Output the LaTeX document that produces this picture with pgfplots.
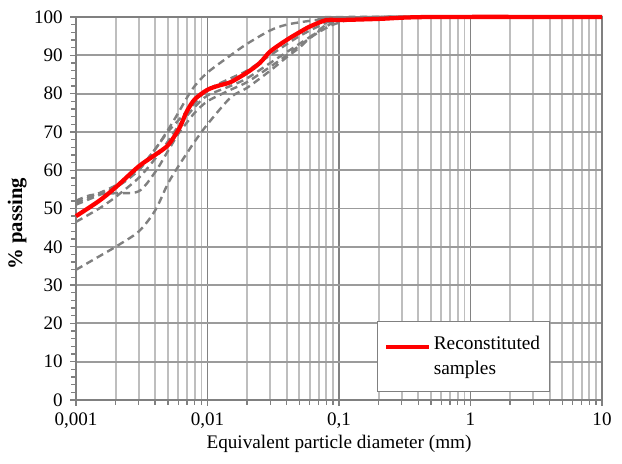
\documentclass[border=0pt]{standalone}
\usepackage{fontspec}
\setmainfont{Liberation Serif}
\usepackage{pgfplots}
\pgfplotsset{compat=1.18}
\definecolor{dgray}{RGB}{128,128,128}
\definecolor{gridmaj}{RGB}{155,155,155}
\definecolor{gridxmaj}{RGB}{130,130,130}
\definecolor{gridmin}{RGB}{190,190,190}
\definecolor{curvegray}{RGB}{128,128,128}
\pgfplotsset{redlegend/.style={legend image code/.code={\draw[##1] (0pt,7pt) -- (32pt,7pt);}}}
\begin{document}
\begin{tikzpicture}
\begin{semilogxaxis}[
  name=ax,
  scale only axis, width=394.5pt, height=287.25pt,
  xmin=0.001, xmax=10, ymin=0, ymax=100,
  xtick={0.001,0.01,0.1,1,10},
  xticklabels={{0,001},{0,01},{0,1},1,10},
  minor xtick={0.002,0.003,0.004,0.005,0.006,0.007,0.008,0.009,
               0.02,0.03,0.04,0.05,0.06,0.07,0.08,0.09,
               0.2,0.3,0.4,0.5,0.6,0.7,0.8,0.9,
               2,3,4,5,6,7,8,9},
  ytick={0,10,...,100},
  minor ytick={2,4,...,98},
  xmajorgrids=true, xminorgrids=true, ymajorgrids=true, yminorgrids=false,
  major grid style={gridmaj, line width=1.4pt},
  major x grid style={gridxmaj, line width=1.4pt},
  minor grid style={gridmin, line width=1.4pt},
  axis line style={dgray, line width=1.2pt},
  tick style={dgray, line width=1pt},
  tick align=outside, tick pos=left,
  major tick length=4.5pt, minor tick length=3.5pt,
  /pgf/number format/assume math mode=true,
  tick label style={font=\fontsize{14.3}{16}\selectfont},
  yticklabel style={xshift=-2pt},
  xticklabel style={yshift=-1.5pt},
  xlabel={Equivalent particle diameter (mm)},
  ylabel={\bfseries\% passing},
  every axis x label/.style={at={(axis description cs:0.5,0)}, anchor=center, yshift=-33pt, font=\fontsize{14.4}{16}\selectfont},
  every axis y label/.style={at={(axis description cs:0,0.46)}, anchor=center, xshift=-44pt, rotate=90, font=\fontsize{15.5}{17}\selectfont},
  clip=false,
  redlegend,
  legend style={at={(0.572,0.021)}, anchor=south west, draw=dgray, line width=1pt,
    font=\fontsize{14.5}{19}\selectfont, cells={align=left, anchor=west},
    inner xsep=5pt, inner ysep=9pt},
]
\addplot[curvegray, line width=1.8pt, dash pattern=on 5.5pt off 3.5pt, smooth, forget plot] coordinates {
(0.001,34) (0.0015,37.5) (0.002,40) (0.003,44) (0.004,49.5) (0.005,56.5) (0.006,61) (0.007,64.5) (0.008,67.5) (0.01,72) (0.015,79) (0.02,81.5) (0.03,86) (0.04,89.5) (0.05,92) (0.06,94.5) (0.08,98) (0.1,99.3) (0.2,100) (10,100)};
\addplot[curvegray, line width=1.8pt, dash pattern=on 5.5pt off 3.5pt, smooth, forget plot] coordinates {
(0.001,52) (0.0013,53.5) (0.002,54) (0.003,54.5) (0.004,59.5) (0.005,65) (0.006,69.5) (0.007,72.5) (0.008,75) (0.01,78) (0.015,81) (0.02,83) (0.03,87) (0.04,90) (0.05,92.5) (0.07,96) (0.1,98.5) (0.2,100) (10,100)};
\addplot[curvegray, line width=1.8pt, dash pattern=on 5.5pt off 3.5pt, smooth, forget plot] coordinates {
(0.001,46.5) (0.0015,50) (0.002,53) (0.003,58) (0.004,63) (0.005,67.5) (0.006,71.5) (0.008,76.5) (0.01,79.5) (0.015,82) (0.02,84) (0.03,88) (0.05,93) (0.08,97.5) (0.1,99) (0.2,100) (10,100)};
\addplot[curvegray, line width=1.8pt, dash pattern=on 5.5pt off 3.5pt, smooth, forget plot] coordinates {
(0.001,51) (0.002,55.5) (0.003,60) (0.004,65.5) (0.005,70) (0.006,73) (0.008,77.5) (0.01,81) (0.015,84) (0.02,86) (0.03,90) (0.05,95) (0.08,98.5) (0.1,99.5) (0.2,100) (10,100)};
\addplot[curvegray, line width=1.8pt, dash pattern=on 5.5pt off 3.5pt, smooth, forget plot] coordinates {
(0.001,51.5) (0.002,56) (0.003,60.5) (0.004,65.5) (0.005,70.5) (0.006,75) (0.007,79) (0.008,82) (0.01,85.5) (0.015,90) (0.02,93) (0.03,96.5) (0.04,98) (0.06,99) (0.08,99.5) (0.1,100) (10,100)};
\addplot[red, line width=3.2pt, smooth] coordinates {
(0.001,48) (0.0015,52) (0.002,55.5) (0.003,61) (0.004,64) (0.005,66.5) (0.006,70.5) (0.0065,73) (0.007,75.5) (0.008,78.5) (0.01,81) (0.0125,82.2) (0.015,83) (0.02,85.5) (0.025,88) (0.03,91) (0.04,94) (0.05,96) (0.06,97.5) (0.08,99.2) (0.1,99.2) (0.2,99.5) (0.5,100) (10,100)};
\addlegendentry{Reconstituted\\samples}
\end{semilogxaxis}
\path (ax.south west) ++(-57pt,-48pt) coordinate (bbA);
\path (ax.north east) ++(15pt,12.75pt) coordinate (bbB);
\path (bbA) rectangle (bbB);
\end{tikzpicture}
\end{document}
